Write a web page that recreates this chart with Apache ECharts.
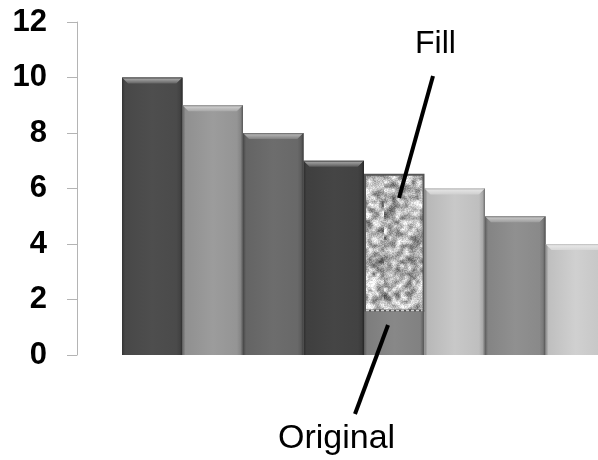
<!DOCTYPE html>
<html>
<head>
<meta charset="utf-8">
<style>
html,body{margin:0;padding:0;background:#fff;}
#c{width:598px;height:460px;}
</style>
<script src="https://cdn.jsdelivr.net/npm/echarts@6/dist/echarts.min.js"></script>
</head>
<body>
<div id="c"></div>
<script>
// ---- data ----
const categories = ['1', '2', '3', '4', '5', '6', '7', '8'];
const barValues = [10, 9, 8, 7, 1.6, 6, 5, 4];      // original bar heights
const fillValues = [null, null, null, null, 6.5, null, null, null]; // top of the "Fill" area
const yTicks = [0, 2, 4, 6, 8, 10, 12];
const annotationTexts = ['Fill', 'Original'];

// ---- styles ----
const barColors = ['#4e4e4e', '#9c9c9c', '#6d6d6d', '#454545', '#888888', '#c8c8c8', '#909090', '#d0d0d0'];

function shade(hex, f) {
  const n = parseInt(hex.slice(1), 16);
  let r = (n >> 16) & 255, g = (n >> 8) & 255, b = n & 255;
  const adj = v => f >= 0 ? Math.round(v + (255 - v) * f) : Math.round(v * (1 + f));
  return 'rgb(' + adj(r) + ',' + adj(g) + ',' + adj(b) + ')';
}

// deterministic blotchy texture for the Fill area
function hash(i, j) {
  let n = Math.imul(i, 374761393) + Math.imul(j, 668265263);
  n = Math.imul(n ^ (n >>> 13), 1274126177);
  n = n ^ (n >>> 16);
  return (n >>> 0) / 4294967295;
}
function makeTexture() {
  const sw = 16, sh = 40, sc = 4;
  const small = document.createElement('canvas');
  small.width = sw; small.height = sh;
  const sctx = small.getContext('2d');
  const img = sctx.createImageData(sw, sh);
  for (let j = 0; j < sh; j++) {
    for (let i = 0; i < sw; i++) {
      const v = Math.pow(hash(i + 7, j + 3), 0.75);
      const g = Math.round(85 + v * 170);
      const k = (j * sw + i) * 4;
      img.data[k] = g; img.data[k + 1] = g; img.data[k + 2] = g; img.data[k + 3] = 255;
    }
  }
  sctx.putImageData(img, 0, 0);
  const big = document.createElement('canvas');
  big.width = sw * sc; big.height = sh * sc;
  const bctx = big.getContext('2d');
  bctx.imageSmoothingEnabled = true;
  bctx.imageSmoothingQuality = 'high';
  bctx.drawImage(small, 0, 0, big.width, big.height);
  const fine = bctx.getImageData(0, 0, big.width, big.height);
  for (let j = 0; j < big.height; j++) {
    for (let i = 0; i < big.width; i++) {
      const k = (j * big.width + i) * 4;
      const d = (hash(i + 101, j + 57) - 0.5) * 50;
      for (let ch = 0; ch < 3; ch++) fine.data[k + ch] = Math.max(0, Math.min(255, fine.data[k + ch] + d));
    }
  }
  bctx.putImageData(fine, 0, 0);
  return big;
}
const texture = makeTexture();

function renderBar(params, api) {
  const idx = api.value(0);
  const v = api.value(1);
  const base = api.coord([idx, 0]);
  const top = api.coord([idx, v]);
  const bw = api.size([1, 0])[0];
  const x0 = base[0] - bw / 2, x1 = base[0] + bw / 2;
  const y0 = top[1], y1 = base[1];
  const c = barColors[idx];
  const isOriginal = fillValues[idx] != null;
  const bev = 6;
  const children = [];
  children.push({
    type: 'rect',
    shape: { x: x0, y: y0, width: x1 - x0, height: y1 - y0 },
    style: {
      fill: {
        type: 'linear', x: 0, y: 0, x2: 1, y2: 0,
        colorStops: [
          { offset: 0, color: shade(c, -0.35) },
          { offset: 0.05, color: shade(c, -0.08) },
          { offset: 0.5, color: c },
          { offset: 0.93, color: shade(c, -0.05) },
          { offset: 1, color: shade(c, -0.4) }
        ]
      }
    }
  });
  if (!isOriginal) {
    children.push({
      type: 'polygon',
      shape: { points: [[x0, y0], [x1, y0], [x1 - bev, y0 + bev], [x0 + bev, y0 + bev]] },
      style: {
        fill: {
          type: 'linear', x: 0, y: 0, x2: 0, y2: 1,
          colorStops: [
            { offset: 0, color: shade(c, -0.1) },
            { offset: 0.3, color: shade(c, 0.45) },
            { offset: 1, color: shade(c, 0.12) }
          ]
        }
      }
    });
    children.push({
      type: 'polygon',
      shape: { points: [[x1, y0], [x1 - bev, y0 + bev], [x1 - bev, y1], [x1, y1]] },
      style: {
        fill: {
          type: 'linear', x: 0, y: 0, x2: 1, y2: 0,
          colorStops: [
            { offset: 0, color: shade(c, -0.05) },
            { offset: 0.6, color: shade(c, -0.15) },
            { offset: 1, color: shade(c, -0.45) }
          ]
        }
      }
    });
  }
  return { type: 'group', children: children };
}

function renderFill(params, api) {
  const idx = api.value(0);
  const bottom = api.value(1);
  const topV = api.value(2);
  const b = api.coord([idx, bottom]);
  const t = api.coord([idx, topV]);
  const bw = api.size([1, 0])[0];
  const x0 = b[0] - bw / 2;
  return {
    type: 'group',
    children: [
      {
        type: 'rect',
        shape: { x: x0 + 1, y: t[1], width: bw - 2, height: b[1] - t[1] },
        style: { fill: { image: texture, repeat: 'repeat' }, stroke: '#555555', lineWidth: 2 }
      },
      {
        type: 'line',
        shape: { x1: x0 + 2, y1: b[1], x2: x0 + bw - 2, y2: b[1] },
        style: { stroke: '#cfcfcf', lineWidth: 1.5, lineDash: [3, 2] }
      }
    ]
  };
}

const barData = barValues.map((v, i) => [i, v]);
const fillData = fillValues.map((v, i) => v == null ? null : [i, barValues[i], v]).filter(d => d);

const chart = echarts.init(document.getElementById('c'), null, { renderer: 'canvas' });
chart.setOption({
  animation: false,
  backgroundColor: '#ffffff',
  grid: { left: 122, top: 22, width: 484, height: 333, containLabel: false, outerBoundsMode: 'none' },
  xAxis: {
    type: 'category',
    data: categories,
    boundaryGap: true,
    axisLine: { show: false },
    axisTick: { show: false },
    axisLabel: { show: false },
    splitLine: { show: false }
  },
  yAxis: {
    type: 'value',
    min: yTicks[0],
    max: yTicks[yTicks.length - 1],
    interval: 2,
    offset: 45,
    axisLine: { show: true, lineStyle: { color: '#b4b4b4', width: 1 } },
    axisTick: { show: true, length: 10, lineStyle: { color: '#b4b4b4' } },
    splitLine: { show: false },
    axisLabel: {
      margin: 30,
      color: '#000',
      fontSize: 31,
      fontWeight: 'bold',
      fontFamily: '"Liberation Sans", Arial, sans-serif'
    }
  },
  series: [
    { type: 'custom', renderItem: renderBar, data: barData, encode: { x: 0, y: 1 }, clip: false },
    { type: 'custom', renderItem: renderFill, data: fillData, encode: { x: 0, y: [1, 2] }, z: 3, clip: false }
  ],
  graphic: [
    { type: 'text', left: 415, top: 28, style: { text: annotationTexts[0], fontSize: 32, fontFamily: '"Liberation Sans", Arial, sans-serif', fill: '#000' }, z: 10 },
    { type: 'line', shape: { x1: 433, y1: 76, x2: 399, y2: 198 }, style: { stroke: '#000', lineWidth: 4 }, z: 10 },
    { type: 'line', shape: { x1: 388, y1: 325, x2: 355, y2: 414 }, style: { stroke: '#000', lineWidth: 4 }, z: 10 },
    { type: 'text', left: 278, top: 422, style: { text: annotationTexts[1], fontSize: 34, fontFamily: '"Liberation Sans", Arial, sans-serif', fill: '#000' }, z: 10 }
  ]
});
</script>
</body>
</html>
